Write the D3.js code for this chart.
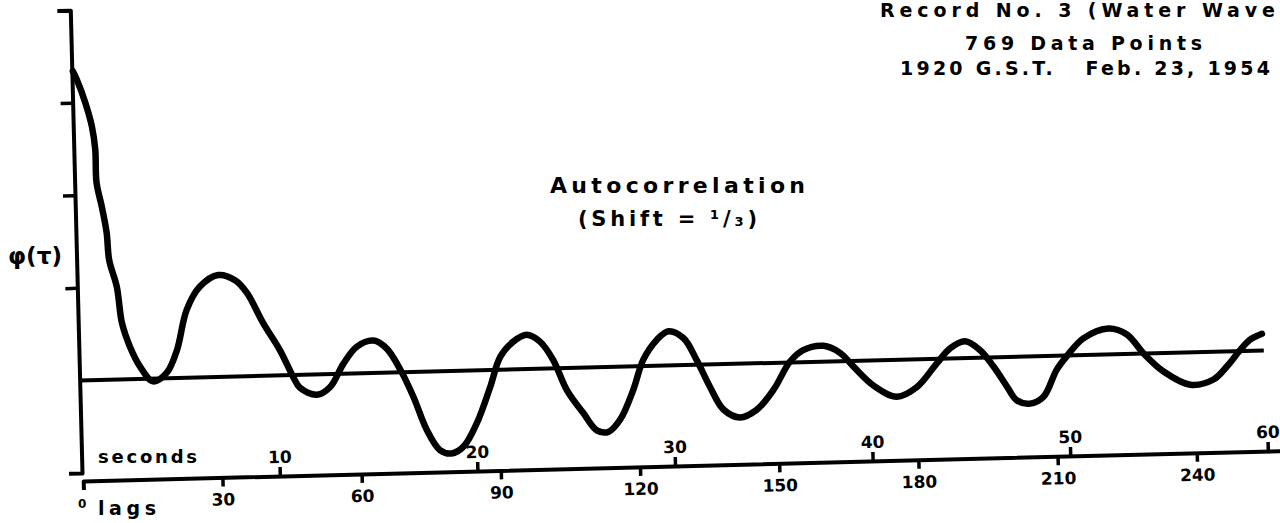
<!DOCTYPE html>
<html>
<head>
<meta charset="utf-8">
<script src="https://cdn.jsdelivr.net/npm/d3@7"></script>
<style>
  body { margin: 0; background: #fff; }
  text { font-family: "DejaVu Sans", sans-serif; font-weight: bold; fill: #000; white-space: pre; }
</style>
</head>
<body>
<div id="graph"></div>
<script>
// valeurs (décalage en lags, autocorrélation en unités de la graduation)
var lags = [0, 0.8, 2.5, 3.8, 4.4, 4.5, 5.5, 6.4, 6.8, 8.3,
    9.2, 10.8, 12.9, 15.6, 18.6, 20.9, 23.2, 26.2, 30.2, 33.8,
    36.3, 39.6, 43.1, 45.8, 47.2, 50.8, 53.7, 56.7, 59.7, 63.3,
    66.1, 68.9, 71.6, 74.3, 77.0, 79.5, 82.1, 85.1, 88.2, 90.5,
    93.4, 96.3, 99.2, 101.9, 104.7, 108.1, 110.9, 113.4, 116.0, 119.0,
    121.3, 124.3, 126.9, 130.1, 132.8, 135.5, 138.3, 141.8, 145.5, 149.2,
    152.9, 155.8, 160.2, 163.7, 166.5, 170.7, 175.7, 180.1, 184.5, 187.5,
    190.7, 193.9, 196.7, 199.5, 201.5, 204.4, 207.3, 210.3, 212.5, 216.2,
    221.7, 225.6, 229.1, 233.3, 239.0, 244.0, 247.0, 249.9, 252.1, 254.7];
var phi = [4.34, 4.25, 4.00, 3.74, 3.49, 3.13, 2.87, 2.59, 2.29, 2.00,
    1.61, 1.35, 1.13, 0.97, 1.06, 1.30, 1.73, 1.98, 2.10, 2.04,
    1.90, 1.57, 1.27, 0.98, 0.86, 0.78, 0.86, 1.11, 1.29, 1.35,
    1.26, 1.03, 0.73, 0.37, 0.15, 0.11, 0.18, 0.43, 0.82, 1.14,
    1.30, 1.37, 1.29, 1.09, 0.76, 0.51, 0.32, 0.30, 0.43, 0.75,
    1.07, 1.28, 1.37, 1.29, 1.05, 0.76, 0.51, 0.42, 0.50, 0.71,
    1.01, 1.13, 1.17, 1.09, 0.94, 0.73, 0.60, 0.70, 0.95, 1.11,
    1.18, 1.08, 0.90, 0.68, 0.53, 0.49, 0.56, 0.85, 0.99, 1.18,
    1.28, 1.21, 1.00, 0.80, 0.65, 0.70, 0.84, 1.01, 1.12, 1.18];
var lagTicks = [30, 60, 90, 120, 150, 180, 210, 240];
var secondTicks = [10, 20, 30, 40, 50, 60];
var yTicks = [2, 3, 4];
var refLevel = 1;
var titleLines = ["Record No. 3 (Water Wave", "769 Data Points", "1920 G.S.T.   Feb. 23, 1954"];

var donnees = lags.map(function(l, i) { return {lag: l, value: phi[i]}; });

var totalWidth = 1280, totalHeight = 523;

var svg = d3.select("#graph").append("svg")
    .attr("width", totalWidth)
    .attr("height", totalHeight);

// échelles (la feuille scannée est légèrement inclinée)
var x = d3.scaleLinear().domain([0, 262]).range([1, 1217]),
    xSec = d3.scaleLinear().domain([0, 60]).range([0, 1186]),
    y = d3.scaleLinear().domain([0, 5]).range([0, -463]);

var plot = svg.append("g")
    .attr("transform", "translate(82,473) rotate(-1.45)");

// axe vertical
var yAxis = plot.append("g")
    .call(d3.axisLeft(y).tickValues(yTicks).tickSize(12).tickSizeOuter(13).tickFormat(""));

// axe des lags (bas) et des secondes (haut)
var xAxis = plot.append("g")
    .attr("transform", "translate(0,8)")
    .call(d3.axisBottom(x).tickValues(lagTicks).tickSize(9).tickSizeOuter(9).tickPadding(7));
var sAxis = plot.append("g")
    .attr("transform", "translate(0,8)")
    .call(d3.axisTop(xSec).tickValues(secondTicks).tickSize(9).tickSizeOuter(0).tickPadding(4));
sAxis.select(".domain").remove();

[yAxis, xAxis, sAxis].forEach(function(a) {
    a.attr("font-family", null).attr("font-size", null);
    a.selectAll(".domain").attr("stroke", "#000").attr("stroke-width", 4).attr("stroke-linejoin", "round");
    a.selectAll(".tick line").attr("stroke", "#000").attr("stroke-width", 3.5);
    a.selectAll(".tick text").style("font-size", "17px").attr("fill", "#000");
});

// ligne de référence
plot.append("line")
    .attr("x1", x(0) - 1)
    .attr("y1", y(refLevel))
    .attr("x2", x(255))
    .attr("y2", y(refLevel))
    .attr("stroke", "#000")
    .attr("stroke-width", 4);

// courbe d'autocorrélation
var ligne = d3.line()
    .curve(d3.curveCatmullRom.alpha(0.5))
    .x(function(d) { return x(d.lag); })
    .y(function(d) { return y(d.value); });
plot.append("path")
    .datum(donnees)
    .attr("fill", "none")
    .attr("stroke", "#000")
    .attr("stroke-width", 6.5)
    .attr("stroke-linejoin", "round")
    .attr("stroke-linecap", "round")
    .attr("d", ligne);

// étiquettes des axes
svg.append("text")
    .attr("x", 98).attr("y", 463)
    .attr("textLength", 99).attr("lengthAdjust", "spacing")
    .style("font-size", "18px")
    .text("seconds");
svg.append("text")
    .attr("x", 78).attr("y", 508)
    .style("font-size", "12px")
    .text("0");
svg.append("text")
    .attr("x", 98).attr("y", 515)
    .attr("textLength", 58).attr("lengthAdjust", "spacing")
    .style("font-size", "19px")
    .text("lags");
svg.append("text")
    .attr("x", 8).attr("y", 264)
    .attr("textLength", 54).attr("lengthAdjust", "spacingAndGlyphs")
    .style("font-size", "23px")
    .text("φ(τ)");

// titres
svg.append("text")
    .attr("x", 550).attr("y", 193)
    .attr("textLength", 255).attr("lengthAdjust", "spacing")
    .style("font-size", "22px")
    .text("Autocorrelation");
svg.append("text")
    .attr("x", 578).attr("y", 226)
    .attr("textLength", 179).attr("lengthAdjust", "spacing")
    .style("font-size", "21px")
    .text("(Shift = ¹/₃)");

var titleLayout = [{x: 880, y: 17, w: 395}, {x: 965, y: 50, w: 237}, {x: 900, y: 75, w: 370}];
titleLines.forEach(function(t, i) {
    svg.append("text")
        .attr("x", titleLayout[i].x)
        .attr("y", titleLayout[i].y)
        .attr("textLength", titleLayout[i].w)
        .attr("lengthAdjust", "spacing")
        .style("font-size", "19px")
        .text(t);
});
</script>
</body>
</html>
